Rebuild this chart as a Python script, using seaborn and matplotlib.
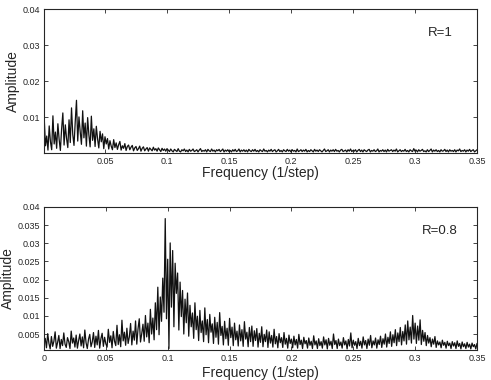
import numpy as np
import pandas as pd
import matplotlib
matplotlib.use("Agg")
import matplotlib.pyplot as plt
import seaborn as sns

# spectrum bins (1/step), same grid for both panels
step = 0.001
n_bins = 350

# amplitude, in units of 1e-3
amp_r1 = [
    9.5, 2.1, 4.8, 0.9, 7.6, 3.2, 1.0, 10.4, 2.6, 5.9,
    1.4, 8.2, 3.9, 0.8, 6.7, 11.2, 2.3, 7.9, 4.1, 1.6,
    9.3, 3.0, 12.6, 5.2, 2.2, 8.8, 14.7, 3.4, 10.1, 6.0,
    2.5, 11.8, 4.3, 8.4, 2.0, 9.9, 5.1, 1.8, 10.3, 3.6,
    6.8, 1.9, 7.5, 4.0, 1.5, 6.1, 3.2, 5.4, 1.3, 4.6,
    2.6, 4.1, 1.2, 3.5, 2.0, 1.0, 3.8, 1.6, 2.9, 1.1,
    2.4, 3.3, 0.9, 2.1, 1.4, 2.7, 0.8, 1.9, 2.3, 1.0,
    1.7, 2.2, 0.7, 1.5, 1.9, 0.8, 1.3, 2.0, 0.6, 1.4,
    1.8, 0.7, 1.2, 1.6, 0.6, 1.5, 1.1, 0.7, 1.7, 0.9,
    1.3, 0.6, 1.5, 1.0, 0.5, 1.4, 0.8, 1.2, 0.6, 1.3,
    0.9, 0.5, 1.2, 0.7, 0.4, 1.1, 0.8, 0.5, 1.3, 0.6,
    0.4, 1.0, 0.7, 1.2, 0.5, 0.9, 0.4, 1.1, 0.6, 0.8,
    1.2, 0.5, 0.7, 1.0, 0.4, 0.9, 1.3, 0.5, 0.8, 0.6,
    1.0, 0.4, 1.1, 0.7, 0.5, 1.2, 0.6, 0.9, 0.4, 1.0,
    0.7, 1.1, 0.5, 0.8, 1.2, 0.4, 0.9, 0.6, 1.0, 0.5,
    0.8, 0.4, 1.0, 0.6, 1.1, 0.5, 0.7, 1.2, 0.4, 0.9,
    0.6, 1.0, 0.5, 0.9, 0.4, 1.1, 0.7, 0.5, 1.0, 0.6,
    1.1, 0.5, 0.8, 0.4, 1.0, 0.7, 0.5, 1.2, 0.6, 0.8,
    0.4, 0.9, 0.6, 1.1, 0.5, 0.8, 1.0, 0.4, 0.7, 1.1,
    0.5, 0.8, 0.4, 1.0, 0.7, 0.5, 1.1, 0.6, 0.9, 0.4,
    1.0, 0.6, 0.8, 0.4, 1.2, 0.5, 0.7, 1.0, 0.5, 0.9,
    0.6, 1.1, 0.4, 0.8, 0.5, 1.0, 0.7, 0.4, 1.1, 0.6,
    0.9, 0.5, 1.0, 0.7, 0.4, 0.8, 1.2, 0.5, 0.7, 1.0,
    0.4, 0.9, 0.6, 1.0, 0.5, 1.1, 0.6, 0.8, 0.4, 0.9,
    1.1, 0.5, 0.7, 0.9, 0.4, 1.0, 0.6, 1.2, 0.5, 0.8,
    0.6, 1.0, 0.4, 0.8, 1.1, 0.5, 0.9, 0.4, 1.0, 0.7,
    0.5, 0.9, 1.1, 0.4, 0.8, 0.6, 1.0, 0.5, 0.7, 1.2,
    0.4, 0.8, 0.6, 1.0, 0.5, 0.9, 0.4, 1.1, 0.6, 0.8,
    1.0, 0.5, 0.9, 0.6, 1.2, 0.4, 0.7, 1.0, 0.5, 0.8,
    0.6, 1.1, 0.5, 0.8, 0.4, 1.0, 0.7, 0.5, 1.3, 0.6,
    0.9, 0.4, 1.0, 0.6, 0.8, 1.1, 0.5, 0.7, 0.4, 1.0,
    0.5, 0.8, 1.2, 0.4, 0.9, 0.6, 1.0, 0.5, 0.8, 0.4,
    1.0, 0.6, 0.7, 1.1, 0.5, 0.9, 0.4, 1.0, 0.6, 0.8,
    0.5, 1.0, 0.4, 0.9, 0.7, 1.2, 0.5, 0.8, 0.6, 1.0,
    0.4, 0.9, 0.6, 1.1, 0.5, 0.8, 1.0, 0.4, 0.7, 1.0,
]

amp_r08 = [
    3.8, 1.2, 5.1, 2.4, 0.9, 4.3, 1.6, 3.0, 5.6, 1.1,
    2.7, 4.6, 1.0, 3.5, 1.8, 5.3, 2.2, 1.3, 4.0, 2.9,
    1.0, 5.8, 2.5, 3.9, 1.4, 4.7, 1.1, 3.2, 5.0, 1.7,
    4.2, 1.2, 6.1, 2.6, 1.0, 3.6, 4.9, 1.5, 2.8, 5.4,
    1.3, 4.4, 2.0, 6.0, 1.1, 3.7, 5.2, 1.6, 4.1, 2.3,
    1.4, 6.3, 2.7, 4.5, 1.2, 5.7, 3.0, 1.8, 7.4, 2.1,
    4.8, 1.5, 8.8, 3.1, 5.5, 1.9, 6.6, 2.4, 4.2, 7.9,
    2.0, 5.8, 3.3, 8.6, 2.2, 6.4, 9.2, 2.8, 5.1, 7.7,
    3.0, 10.1, 4.2, 8.0, 2.6, 11.8, 5.0, 9.4, 3.4, 13.6,
    6.2, 17.9, 4.8, 15.2, 8.5, 20.4, 11.0, 36.8, 9.2, 25.6,
    1.0, 30.1, 12.4, 28.0, 7.0, 24.5, 16.2, 21.8, 6.1, 19.3,
    9.8, 17.0, 5.0, 14.6, 8.1, 16.3, 4.4, 12.9, 7.0, 10.8,
    3.8, 13.6, 6.2, 9.9, 3.2, 11.5, 5.4, 8.6, 2.9, 12.2,
    4.8, 9.0, 2.6, 10.4, 5.5, 7.8, 2.4, 9.6, 4.1, 8.2,
    2.2, 10.9, 4.6, 7.1, 2.0, 8.5, 3.7, 6.6, 1.9, 9.3,
    4.0, 6.9, 1.8, 8.0, 3.4, 5.8, 1.7, 7.5, 3.1, 6.2,
    1.6, 8.4, 3.6, 5.5, 1.5, 6.8, 2.9, 7.2, 1.6, 5.9,
    3.2, 6.5, 1.4, 5.2, 2.7, 7.0, 1.5, 4.9, 2.9, 6.1,
    1.3, 5.6, 2.5, 4.6, 1.4, 6.3, 2.3, 4.3, 1.2, 5.1,
    2.6, 4.0, 1.3, 5.4, 2.2, 3.8, 1.1, 4.7, 2.4, 3.6,
    1.2, 4.4, 2.0, 3.5, 1.1, 4.9, 2.1, 3.3, 1.0, 4.1,
    2.3, 3.2, 1.1, 3.9, 1.9, 3.0, 1.0, 4.5, 2.0, 3.1,
    1.0, 3.7, 1.8, 2.9, 1.1, 4.2, 2.0, 3.4, 0.9, 3.8,
    1.9, 3.0, 1.0, 5.0, 2.1, 3.2, 1.0, 3.6, 1.8, 2.8,
    1.1, 4.0, 2.0, 3.1, 0.9, 3.5, 1.7, 5.3, 1.2, 3.3,
    1.9, 2.9, 1.0, 3.8, 1.8, 3.0, 1.1, 4.2, 2.0, 3.2,
    1.0, 3.6, 1.9, 4.6, 1.2, 3.1, 2.0, 3.9, 1.1, 3.4,
    2.1, 4.4, 1.3, 3.7, 2.2, 5.0, 1.4, 4.1, 2.4, 5.6,
    1.6, 4.8, 2.6, 6.2, 1.8, 5.3, 2.9, 6.8, 2.0, 5.7,
    3.1, 7.5, 2.2, 8.6, 3.4, 6.9, 2.5, 10.1, 3.6, 8.0,
    2.4, 7.2, 3.3, 8.9, 2.1, 6.0, 3.0, 5.4, 1.8, 4.6,
    2.5, 4.0, 1.5, 3.6, 2.2, 4.3, 1.3, 3.1, 2.0, 2.8,
    1.2, 3.3, 1.9, 2.7, 1.1, 3.0, 1.8, 2.5, 1.0, 2.9,
    1.7, 2.6, 1.0, 3.1, 1.6, 2.4, 0.9, 2.8, 1.5, 2.3,
    1.0, 2.7, 1.4, 2.2, 0.9, 2.5, 1.5, 2.1, 0.9, 2.4,
]

labels = ["R=1", "R=0.8"]
xticks_top = [0.05, 0.1, 0.15, 0.2, 0.25, 0.3, 0.35]
xticks_bot = [0, 0.05, 0.1, 0.15, 0.2, 0.25, 0.3, 0.35]
yticks_top = [0.01, 0.02, 0.03, 0.04]
yticks_bot = [0.005, 0.01, 0.015, 0.02, 0.025, 0.03, 0.035, 0.04]

freq = step * np.arange(1, n_bins + 1)
df1 = pd.DataFrame({"freq": freq, "amp": np.array(amp_r1) * 1e-3})
df2 = pd.DataFrame({"freq": freq, "amp": np.array(amp_r08) * 1e-3})

sns.set_style("ticks")
plt.rcParams["font.family"] = ["Liberation Sans", "DejaVu Sans"]

fig = plt.figure(figsize=(4.91, 3.80), dpi=100)
ax1 = fig.add_axes([0.0896, 0.5974, 0.8819, 0.3789])
ax2 = fig.add_axes([0.0896, 0.0790, 0.8819, 0.3763])

panels = [
    (ax1, df1, labels[0], xticks_top, yticks_top, (0.0008, 0.35), (0.0001, 0.04), -0.055, -0.09),
    (ax2, df2, labels[1], xticks_bot, yticks_bot, (0.0, 0.35), (0.0006, 0.04), -0.067, -0.11),
]

for ax, d, lab, xt, yt, xl, yl, ylab_x, xlab_y in panels:
    sns.lineplot(data=d, x="freq", y="amp", ax=ax, color="#111111", lw=0.9)
    ax.set_xlim(*xl)
    ax.set_ylim(*yl)
    ax.set_xticks(xt)
    ax.set_xticklabels([f"{v:g}" for v in xt])
    ax.set_yticks(yt)
    ax.set_yticklabels([f"{v:g}" for v in yt])
    ax.tick_params(direction="in", top=True, right=True, labelsize=6.5,
                   length=3, width=0.6, pad=3)
    for s in ax.spines.values():
        s.set_linewidth(0.8)
    ax.set_xlabel("Frequency (1/step)", fontsize=10)
    ax.set_ylabel("Amplitude", fontsize=10)
    ax.xaxis.set_label_coords(0.5, xlab_y)
    ax.yaxis.set_label_coords(ylab_x, 0.5)
    ax.text(0.915, 0.83, lab, transform=ax.transAxes, fontsize=9.5,
            ha="center", va="center")

fig.savefig("out.png", dpi=100)
